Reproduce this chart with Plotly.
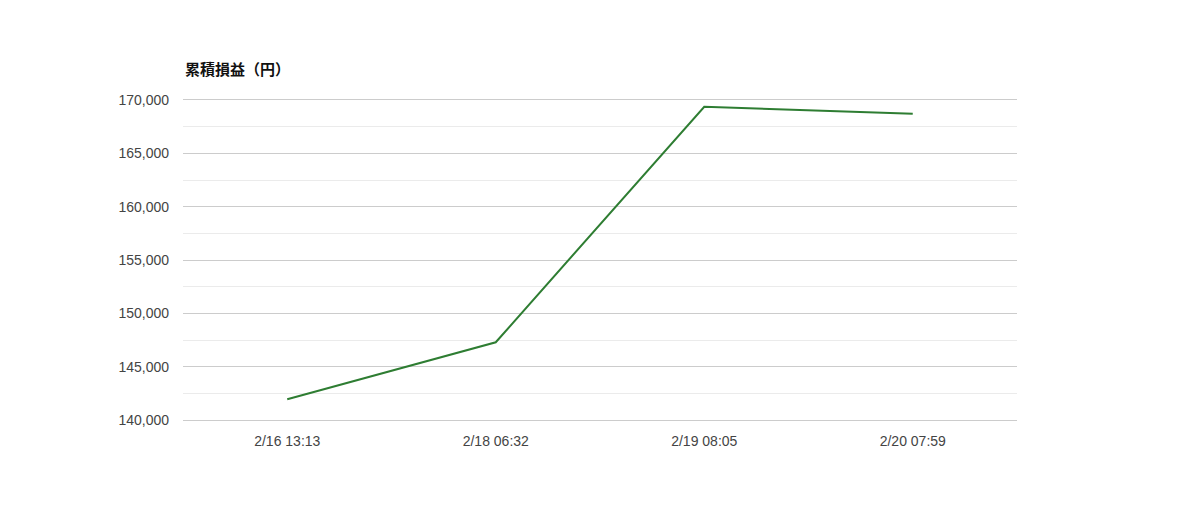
import plotly.graph_objects as go

# cumulative P/L per trade time
labels = ["2/16 13:13", "2/18 06:32", "2/19 08:05", "2/20 07:59"]
values = [141950, 147290, 169370, 168720]

fig = go.Figure()

fig.add_trace(
    go.Scatter(
        x=labels,
        y=values,
        mode="lines",
        line=dict(color="#2e7d32", width=2),
        hoverinfo="skip",
    )
)

fig.add_annotation(
    text="<b>累積損益（円）</b>",
    xref="paper", yref="paper",
    x=0, y=1,
    xanchor="left", yanchor="bottom",
    yshift=20, xshift=0,
    showarrow=False,
    font=dict(size=15, color="#111", family="Liberation Sans, Noto Sans CJK JP"),
)

fig.update_layout(
    width=1200,
    height=520,
    margin=dict(l=175, r=191, t=92, b=108),
    plot_bgcolor="white",
    paper_bgcolor="white",
    showlegend=False,
    font=dict(family="Liberation Sans, Arial, Noto Sans CJK JP", size=14, color="#444"),
    xaxis=dict(
        type="category",
        range=[-0.5, 3.5],
        showgrid=False,
        zeroline=False,
        showline=True,
        mirror=True,
        linecolor="#cccccc",
        linewidth=1,
        ticks="",
        ticklabelstandoff=8,
    ),
    yaxis=dict(
        range=[140000, 170000],
        dtick=5000,
        tickformat=",d",
        gridcolor="#cccccc",
        gridwidth=1,
        zeroline=False,
        showline=False,
        ticks="",
        ticklabelstandoff=13,
        minor=dict(dtick=2500, gridcolor="#ebebeb", showgrid=True),
    ),
)

fig.write_html("out.html")
